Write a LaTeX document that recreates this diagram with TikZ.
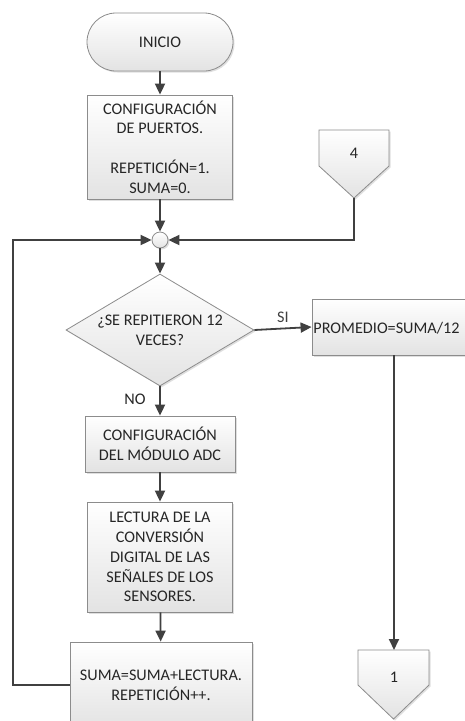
\documentclass[tikz,border=0pt]{standalone}
\usepackage{fontspec}
\setmainfont{Carlito}
\usetikzlibrary{arrows.meta,shapes.geometric,shadows}
\definecolor{ln}{HTML}{404040}
\definecolor{bd}{HTML}{8C8C8C}
\definecolor{tx}{HTML}{262626}
\begin{document}
\begin{tikzpicture}[x=1pt,y=-1pt,
  font=\fontsize{16.2}{19.8}\selectfont, text=tx,
  boxst/.style={draw=bd, line width=0.8pt, top color=white, bottom color=gray!22,
    drop shadow={opacity=0.25, shadow xshift=1.5pt, shadow yshift=-1.5pt},
    align=center, inner sep=0pt},
  conn/.style={ln, line width=1.8pt, -{Triangle[width=10pt,length=11pt]}},
  lbl/.style={inner sep=0pt}
]
\useasboundingbox (0,0) rectangle (465,721);
\fill[white] (0,0) rectangle (465,721);
\clip (0,0) rectangle (465,721);

\node[boxst, rounded corners=29pt, minimum width=146pt, minimum height=58pt] (ini) at (160,42) {INICIO};
\node[boxst, minimum width=145pt, minimum height=104pt] (cfg) at (160,147)
  {CONFIGURACIÓN\\DE PUERTOS.\\[19.8pt]REPETICIÓN=1.\\SUMA=0.};
\node[boxst, circle, minimum size=16pt] (j) at (160,240) {};
\node[boxst, diamond, minimum width=188pt, minimum height=112pt] (dec) at (160,330) {};
\node[lbl, align=center] (dect) at (dec) {¿SE REPITIERON 12\\VECES?};
\node[boxst, minimum width=164pt, minimum height=56pt] (pro) at (394,327) {};
\node[lbl] (prot) at (386.5,328) {PROMEDIO=SUMA/12};
\node[boxst, minimum width=150pt, minimum height=56pt] (adc) at (160,444)
  {CONFIGURACIÓN\\DEL MÓDULO ADC};
\node[boxst, minimum width=145pt, minimum height=110pt] (lec) at (160,557)
  {LECTURA DE LA\\CONVERSIÓN\\DIGITAL DE LAS\\SEÑALES DE LOS\\SENSORES.};
\node[boxst, minimum width=182pt, minimum height=86pt] (sum) at (161,685)
  {SUMA=SUMA+LECTURA.\\REPETICIÓN++.};

% off-page connectors
\path[boxst] (319,130) -- (389,130) -- (389,166) -- (354,198) -- (319,166) -- cycle;
\coordinate (c4) at (354,198);
\node[lbl] (t4) at (354,153) {4};
\path[boxst] (358,650) -- (429,650) -- (429,685) -- (393.5,719) -- (358,685) -- cycle;
\coordinate (c1) at (394,650);
\node[lbl] (t1) at (394,677) {1};

% connectors
\draw[conn] (ini) -- (cfg);
\draw[conn] (cfg) -- (j);
\draw[conn] (j) -- (dec.north);
\draw[conn] (dec.east) -- (pro.west) node[midway, above=5pt, lbl] (si) {SI};
\draw[conn] (dec.south) -- (adc.north);
\node[lbl] (no) at (135,399) {NO};
\draw[conn] (adc) -- (lec);
\draw[conn] (lec) -- (sum);
\draw[conn] (sum.west) -- ++(-57,0) |- (j.west);
\draw[conn] (c4) |- (j.east);
\draw[conn] (pro.south -| c1) -- (c1);
\end{tikzpicture}
\end{document}
